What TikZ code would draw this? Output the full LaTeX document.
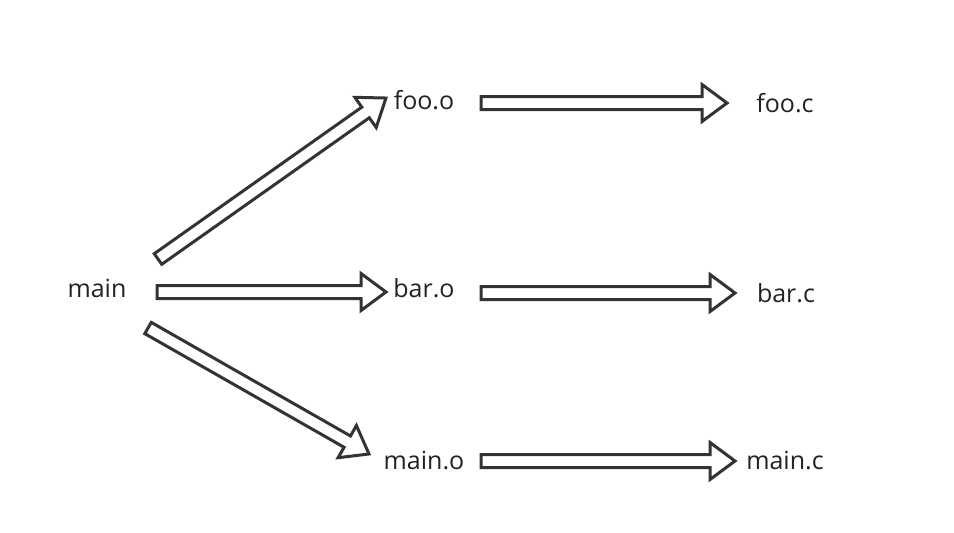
\documentclass[tikz,border=0pt]{standalone}
\usepackage{fontspec}
\setmainfont{Open Sans}
\usetikzlibrary{calc}
\definecolor{ink}{HTML}{333333}
\definecolor{txt}{HTML}{222222}
\tikzset{
  lbl/.style={font=\fontsize{25}{28}\selectfont, text=txt, inner sep=0pt, anchor=base},
  blk/.style={draw=ink, line width=3pt, fill=white, line join=miter}
}
\newcommand\blockarr[2]{%
  \path[blk] let \p1=(#1), \p2=(#2),
    \n1={atan2(\y2-\y1,\x2-\x1)}, \n2={veclen(\x2-\x1,\y2-\y1)} in
    [shift={(\p1)}, rotate=\n1]
    (0pt,-6.5pt) -- ({\n2-25pt},-6.5pt) -- ({\n2-25pt},-18.5pt) -- ({\n2},0pt)
    -- ({\n2-25pt},18.5pt) -- ({\n2-25pt},6.5pt) -- (0pt,6.5pt) -- cycle;}
\begin{document}
\begin{tikzpicture}[x=1pt,y=-1pt]
\useasboundingbox[fill=white] (0,0) rectangle (954,533);
\node[lbl] (main)  at (97,297) {main};
\node[lbl] (fooo)  at (424,109) {foo.o};
\node[lbl] (baro)  at (424,297) {bar.o};
\node[lbl] (maino) at (424,469) {main.o};
\node[lbl] (fooc)  at (785,112) {foo.c};
\node[lbl] (barc)  at (786,302) {bar.c};
\node[lbl] (mainc) at (785,469) {main.c};
% arrow end points
\coordinate (a1s) at (158,259); \coordinate (a1e) at (386,98);
\coordinate (a2s) at (157,292); \coordinate (a2e) at (386,292);
\coordinate (a3s) at (148,328); \coordinate (a3e) at (369,454);
\coordinate (b1s) at (481,103); \coordinate (b1e) at (727,103);
\coordinate (b2s) at (481,293); \coordinate (b2e) at (735,293);
\coordinate (b3s) at (481,461); \coordinate (b3e) at (735,461);
\blockarr{a1s}{a1e}
\blockarr{a2s}{a2e}
\blockarr{a3s}{a3e}
\blockarr{b1s}{b1e}
\blockarr{b2s}{b2e}
\blockarr{b3s}{b3e}
\end{tikzpicture}
\end{document}
